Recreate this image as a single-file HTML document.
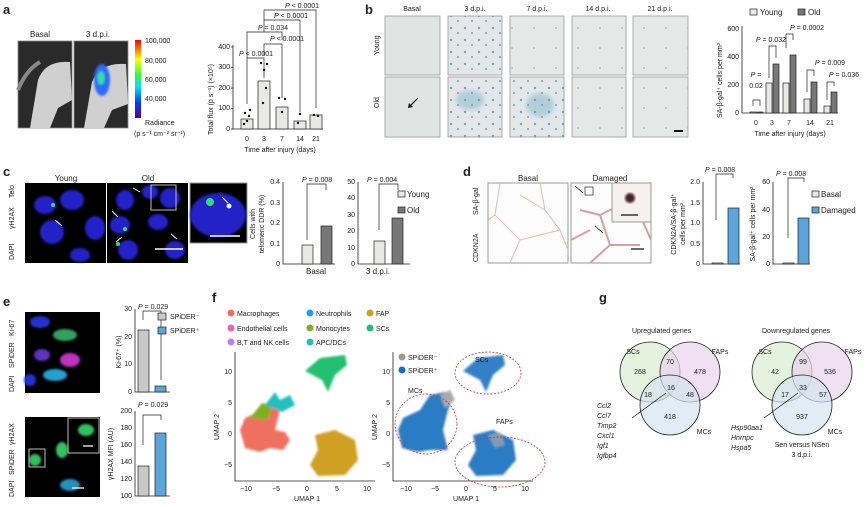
<!DOCTYPE html>
<html><head><meta charset="utf-8"><style>
body{margin:0;background:#fff}
svg{display:block;font-family:"Liberation Sans",sans-serif}
text{fill:#222}
.t{font-size:8px}
.s{font-size:7px}
.L{font-size:13px;font-weight:bold}
.ax{stroke:#222;stroke-width:0.8;fill:none}
.br{stroke:#222;stroke-width:0.7;fill:none}
.lb{fill:#e8e8e6;stroke:#222;stroke-width:0.7}
.dk{fill:#777;stroke:#222;stroke-width:0.7}
.bl{fill:#5aa6dc;stroke:#222;stroke-width:0.7}
.gr{fill:#c8c8c8;stroke:#222;stroke-width:0.7}
</style></head><body>
<svg width="867" height="507" viewBox="0 0 867 507">
<defs>
<linearGradient id="rb" x1="0" y1="1" x2="0" y2="0">
<stop offset="0" stop-color="#5000a0"/><stop offset="0.2" stop-color="#0040ff"/><stop offset="0.4" stop-color="#00e0ff"/><stop offset="0.55" stop-color="#30ff30"/><stop offset="0.75" stop-color="#ffff00"/><stop offset="1" stop-color="#ff0000"/></linearGradient>
<filter id="bl1"><feGaussianBlur stdDeviation="2"/></filter>
<filter id="bl2"><feGaussianBlur stdDeviation="1"/></filter>
<pattern id="pb" width="14" height="12" patternUnits="userSpaceOnUse"><rect width="14" height="12" fill="#e4e7e8"/><circle cx="3" cy="4" r="1.2" fill="#6aa8c0"/><circle cx="10" cy="9" r="0.9" fill="#4d90b0"/></pattern>
<pattern id="pl" width="22" height="20" patternUnits="userSpaceOnUse"><rect width="22" height="20" fill="#e6e8e8"/><circle cx="6" cy="8" r="0.8" fill="#6aa8c0"/></pattern>
</defs>

<!-- a -->
<text class="L" x="3" y="14">a</text>
<text class="t" x="30" y="37">Basal</text><text class="t" x="86" y="37">3 d.p.i.</text>
<rect x="18" y="41" width="54" height="87" fill="#2a2a2a" stroke="#888" stroke-width="0.8"/>
<path d="M30 128 L38 80 Q45 60 70 62 L72 100 L58 108 L50 128Z" fill="#d0d0d0"/>
<path d="M18 90 Q26 70 40 62" stroke="#888" stroke-width="4" fill="none"/>
<rect x="74" y="41" width="54" height="87" fill="#2a2a2a" stroke="#888" stroke-width="0.8"/>
<path d="M84 128 L92 82 Q100 62 126 64 L128 104 L112 110 L104 128Z" fill="#d0d0d0"/>
<ellipse cx="102" cy="80" rx="8" ry="16" fill="#2d6cff" filter="url(#bl2)"/><ellipse cx="101" cy="78" rx="4" ry="7" fill="#30e0a0" filter="url(#bl2)"/>
<rect x="135" y="40" width="6" height="78" fill="url(#rb)"/>
<g class="s"><text x="145" y="43">100,000</text><text x="145" y="63">80,000</text><text x="145" y="82">60,000</text><text x="145" y="101">40,000</text><text x="145" y="125">Radiance</text><text x="134" y="136">(p s⁻¹ cm⁻² sr⁻¹)</text></g>
<path class="ax" d="M233 45 V129 H323"/>
<g class="s" text-anchor="end"><text x="230" y="131">0</text><text x="230" y="110">100</text><text x="230" y="90">200</text><text x="230" y="69">300</text><text x="230" y="49">400</text></g>
<path class="ax" d="M231 129h2M231 108.5h2M231 88h2M231 67.5h2M231 47h2"/>
<text class="s" transform="translate(213,135) rotate(-90)">Total flux (p s⁻¹) (×10⁵)</text>
<rect class="lb" x="241" y="119" width="12" height="10"/><rect class="lb" x="258" y="81" width="12" height="48"/><rect class="lb" x="276" y="107" width="12" height="22"/><rect class="lb" x="294" y="121" width="12" height="8"/><rect class="lb" x="310" y="115" width="12" height="14"/>
<g fill="#111"><circle cx="245" cy="113" r="1.2"/><circle cx="249" cy="116" r="1.2"/><circle cx="247" cy="121" r="1.2"/><circle cx="244" cy="124" r="1.2"/><circle cx="250" cy="110" r="1.2"/><circle cx="261" cy="63" r="1.2"/><circle cx="267" cy="64" r="1.2"/><circle cx="264" cy="70" r="1.2"/><circle cx="266" cy="88" r="1.2"/><circle cx="263" cy="103" r="1.2"/><circle cx="279" cy="98" r="1.2"/><circle cx="285" cy="99" r="1.2"/><circle cx="282" cy="112" r="1.2"/><circle cx="300" cy="114" r="1.2"/><circle cx="298" cy="123" r="1.2"/><circle cx="314" cy="115" r="1.2"/><circle cx="318" cy="116" r="1.2"/></g>
<g class="s" text-anchor="middle"><text x="247" y="141">0</text><text x="264" y="141">3</text><text x="282" y="141">7</text><text x="300" y="141">14</text><text x="316" y="141">21</text><text x="280" y="152">Time after injury (days)</text>
<text x="256" y="56"><tspan font-style="italic">P</tspan> &lt; 0.0001</text><text x="287" y="41"><tspan font-style="italic">P</tspan> &lt; 0.0001</text><text x="273" y="30"><tspan font-style="italic">P</tspan> = 0.034</text><text x="291" y="18"><tspan font-style="italic">P</tspan> &lt; 0.0001</text><text x="302" y="8"><tspan font-style="italic">P</tspan> &lt; 0.0001</text></g>
<path class="br" d="M247 104V58H264V78M264 56V44H282V98M247 102V32H282V40M264 32V20H300V112M264 20V10H316V108"/>

<!-- b -->
<text class="L" x="365" y="14">b</text>
<g class="s" text-anchor="middle"><text x="412" y="11">Basal</text><text x="475" y="11">3 d.p.i.</text><text x="537" y="11">7 d.p.i.</text><text x="598" y="11">14 d.p.i.</text><text x="660" y="11">21 d.p.i.</text></g>
<text class="s" transform="translate(379,55) rotate(-90)">Young</text><text class="s" transform="translate(379,108) rotate(-90)">Old</text>
<g stroke="#999" stroke-width="0.8">
<rect x="385" y="16" width="55" height="59" fill="#e2e4e4"/><rect x="385" y="77" width="55" height="60" fill="#e2e4e4"/>
<rect x="448" y="16" width="54" height="59" fill="url(#pb)"/><rect x="448" y="77" width="54" height="60" fill="url(#pb)"/>
<rect x="510" y="16" width="54" height="59" fill="url(#pl)"/><rect x="510" y="77" width="54" height="60" fill="url(#pb)"/>
<rect x="572" y="16" width="54" height="59" fill="url(#pl)"/><rect x="572" y="77" width="54" height="60" fill="url(#pl)"/>
<rect x="633" y="16" width="55" height="59" fill="url(#pl)"/><rect x="633" y="77" width="55" height="60" fill="url(#pl)"/>
</g>
<ellipse cx="470" cy="100" rx="14" ry="10" fill="#5a9ec0" opacity="0.35" filter="url(#bl1)"/><ellipse cx="540" cy="105" rx="14" ry="12" fill="#5a9ec0" opacity="0.35" filter="url(#bl1)"/>
<path d="M418 98 L410 106" stroke="#111" stroke-width="1.2"/><path d="M408 108 l1-5 l4 4z" fill="#111"/>
<rect x="674" y="130" width="9" height="2" fill="#111"/>
<rect class="lb" x="750" y="9" width="7" height="6"/><text class="t" x="760" y="15">Young</text><rect class="dk" x="798" y="9" width="7" height="6"/><text class="t" x="808" y="15">Old</text>
<path class="ax" d="M742 26V113H838"/>
<g class="s" text-anchor="end"><text x="739" y="115">0</text><text x="739" y="87">200</text><text x="739" y="59">400</text><text x="739" y="31">600</text></g>
<text class="s" transform="translate(722,118) rotate(-90)">SA-β-gal⁺ cells per mm²</text>
<rect class="lb" x="750" y="112" width="6" height="1"/><rect class="dk" x="757" y="112" width="6" height="1"/>
<rect class="lb" x="766" y="83" width="6" height="30"/><rect class="dk" x="773" y="64" width="6" height="49"/>
<rect class="lb" x="783" y="83" width="6" height="30"/><rect class="dk" x="790" y="55" width="6" height="58"/>
<rect class="lb" x="804" y="99" width="6" height="14"/><rect class="dk" x="811" y="82" width="6" height="31"/>
<rect class="lb" x="824" y="106" width="6" height="7"/><rect class="dk" x="831" y="92" width="6" height="21"/>
<g class="s" text-anchor="middle"><text x="756" y="125">0</text><text x="772" y="125">3</text><text x="789" y="125">7</text><text x="810" y="125">14</text><text x="830" y="125">21</text><text x="790" y="136">Time after injury (days)</text>
<text x="756" y="77"><tspan font-style="italic">P</tspan> =</text><text x="756" y="88">0.02</text><text x="771" y="42"><tspan font-style="italic">P</tspan> = 0.032</text><text x="807" y="30"><tspan font-style="italic">P</tspan> = 0.0002</text><text x="830" y="65"><tspan font-style="italic">P</tspan> = 0.009</text><text x="844" y="77"><tspan font-style="italic">P</tspan> = 0.036</text></g>
<path class="br" d="M753 106V100H760V106M769 78V46H776V58M786 48V34H793V40M807 92V70H814V76M827 100V82H834V86"/>

<!-- c -->
<text class="L" x="3" y="176">c</text>
<g class="t" text-anchor="middle"><text x="66" y="181">Young</text><text x="148" y="181">Old</text></g>
<rect x="25" y="183" width="81" height="80" fill="#000"/><rect x="107" y="183" width="81" height="80" fill="#000"/><rect x="190" y="183" width="57" height="60" fill="#000" stroke="#999"/>
<g fill="#2020c8" filter="url(#bl2)"><ellipse cx="45" cy="205" rx="11" ry="9"/><ellipse cx="72" cy="200" rx="12" ry="10"/><ellipse cx="52" cy="232" rx="12" ry="12"/><ellipse cx="95" cy="228" rx="10" ry="12"/><ellipse cx="80" cy="255" rx="10" ry="7"/><ellipse cx="125" cy="200" rx="9" ry="10"/><ellipse cx="150" cy="192" rx="8" ry="7"/><ellipse cx="170" cy="198" rx="10" ry="10"/><ellipse cx="120" cy="225" rx="10" ry="9"/><ellipse cx="158" cy="222" rx="10" ry="8"/><ellipse cx="128" cy="250" rx="10" ry="10"/><ellipse cx="175" cy="250" rx="10" ry="9"/><ellipse cx="218" cy="215" rx="28" ry="22"/></g>
<g fill="#2fe07a"><circle cx="53" cy="205" r="2"/><circle cx="125" cy="229" r="2"/><circle cx="118" cy="244" r="2"/><circle cx="210" cy="202" r="4"/><circle cx="229" cy="206" r="2.5" fill="#d0ffff"/></g>
<rect x="151" y="185" width="25" height="25" fill="none" stroke="#bbb" stroke-width="1"/>
<path d="M155 249h28M210 236h30" stroke="#fff" stroke-width="1.5"/>
<path d="M62 226l-7-6M140 192l-7-4M118 217l-6-6M122 237l-6 5M177 239l-6-5M228 203l-6-6" stroke="#fff" stroke-width="1"/>
<g class="s"><text transform="translate(14,198) rotate(-90)" fill="#e0407a">Telo</text><text transform="translate(14,229) rotate(-90)" fill="#40a060">γH2AX</text><text transform="translate(14,260) rotate(-90)" fill="#3030c0">DAPI</text></g>
<path class="ax" d="M283 182V264H335"/>
<g class="s" text-anchor="end"><text x="280" y="266">0</text><text x="280" y="246">0.1</text><text x="280" y="225">0.2</text><text x="280" y="205">0.3</text><text x="280" y="184">0.4</text></g>
<text class="s" text-anchor="middle" transform="translate(255,224) rotate(-90)">Cells with</text><text class="s" text-anchor="middle" transform="translate(264,224) rotate(-90)">telomeric DDR (%)</text>
<rect class="lb" x="302" y="245" width="11" height="19"/><rect class="dk" x="321" y="226" width="11" height="38"/>
<text class="s" x="302" y="182"><tspan font-style="italic">P</tspan> = 0.008</text><path class="br" d="M307 240V184H326V190"/>
<text class="t" x="306" y="274">Basal</text>
<path class="ax" d="M358 182V264H410"/>
<g class="s" text-anchor="end"><text x="355" y="266">0</text><text x="355" y="250">10</text><text x="355" y="233">20</text><text x="355" y="217">30</text><text x="355" y="200">40</text><text x="355" y="184">50</text></g>
<rect class="lb" x="374" y="241" width="11" height="23"/><rect class="dk" x="392" y="218" width="11" height="46"/>
<text class="s" x="367" y="182"><tspan font-style="italic">P</tspan> = 0.004</text><path class="br" d="M379 230V184H398V190"/>
<text class="t" x="366" y="274">3 d.p.i.</text>
<rect class="lb" x="398" y="191" width="7" height="6"/><text class="t" x="407" y="197">Young</text><rect class="dk" x="398" y="207" width="7" height="6"/><text class="t" x="407" y="213">Old</text>

<!-- d -->
<text class="L" x="463" y="176">d</text>
<g class="t" text-anchor="middle"><text x="528" y="181">Basal</text><text x="610" y="181">Damaged</text></g>
<rect x="488" y="183" width="80" height="80" fill="#fdfdfd" stroke="#999"/>
<path d="M500 183L495 215L520 240L510 263M520 240L560 230L568 250M540 183L545 210L560 230M495 215L488 220M545 210L520 195" stroke="#e8b8b0" stroke-width="1" fill="none"/>
<rect x="571" y="183" width="80" height="80" fill="#fdfdfd" stroke="#999"/>
<path d="M580 210L600 215L610 245L590 263M600 215L620 205L640 215L651 240M610 245L640 245M571 240L590 230" stroke="#d8a0a0" stroke-width="2" fill="none"/>
<rect x="612" y="183" width="39" height="39" fill="#f6f0f0" stroke="#999"/>
<circle cx="630" cy="198" r="5" fill="#4a2030" filter="url(#bl2)"/><path d="M621 215h17M631 249h13" stroke="#111" stroke-width="1.3"/>
<rect x="585" y="187" width="8" height="8" fill="none" stroke="#666"/>
<path d="M575 186l8 7M595 226l8 7" stroke="#111" stroke-width="0.8"/>
<g class="s"><text transform="translate(478,215) rotate(-90)" fill="#4a8ac0">SA-β-gal</text><text transform="translate(478,262) rotate(-90)" fill="#a06050">CDKN2A</text></g>
<path class="ax" d="M703 182V264H740"/>
<g class="s" text-anchor="end"><text x="700" y="266">0</text><text x="700" y="246">0.5</text><text x="700" y="225">1.0</text><text x="700" y="205">1.5</text><text x="700" y="184">2.0</text></g>
<text class="s" text-anchor="middle" transform="translate(676,224) rotate(-90)">CDKN2A/SA-β-gal⁺</text><text class="s" text-anchor="middle" transform="translate(685,224) rotate(-90)">cells per mm²</text>
<rect class="lb" x="712" y="263" width="11" height="1"/><rect class="bl" x="728" y="208" width="11" height="56"/>
<text class="s" x="705" y="172"><tspan font-style="italic">P</tspan> = 0.008</text><path class="br" d="M716 220V174H733V178"/>
<path class="ax" d="M773 182V264H810"/>
<g class="s" text-anchor="end"><text x="770" y="266">0</text><text x="770" y="239">20</text><text x="770" y="212">40</text><text x="770" y="184">60</text></g>
<text class="s" text-anchor="middle" transform="translate(755,224) rotate(-90)">SA-β-gal⁺ cells per mm²</text>
<rect class="lb" x="783" y="263" width="11" height="1"/><rect class="bl" x="798" y="218" width="11" height="46"/>
<text class="s" x="776" y="176"><tspan font-style="italic">P</tspan> = 0.008</text><path class="br" d="M788 238V178H804V182"/>
<rect class="lb" x="812" y="191" width="7" height="6"/><text class="t" x="821" y="197">Basal</text><rect class="bl" x="812" y="207" width="7" height="6"/><text class="t" x="821" y="213">Damaged</text>

<!-- e -->
<text class="L" x="3" y="306">e</text>
<rect x="25" y="312" width="75" height="81" fill="#000"/><rect x="25" y="417" width="75" height="80" fill="#000"/>
<g filter="url(#bl2)"><ellipse cx="40" cy="322" rx="10" ry="6" fill="#2030d0"/><ellipse cx="65" cy="335" rx="12" ry="6" fill="#30a060"/><ellipse cx="70" cy="360" rx="10" ry="7" fill="#c030c0"/><ellipse cx="42" cy="355" rx="8" ry="6" fill="#6030c0"/><ellipse cx="55" cy="375" rx="12" ry="6" fill="#20a0d0"/><ellipse cx="30" cy="380" rx="6" ry="6" fill="#2030d0"/><ellipse cx="62" cy="450" rx="6" ry="8" fill="#30c060"/><ellipse cx="35" cy="460" rx="6" ry="6" fill="#30c060"/><ellipse cx="70" cy="485" rx="10" ry="6" fill="#2090c0"/><ellipse cx="86" cy="430" rx="8" ry="6" fill="#30c060"/></g>
<rect x="29" y="449" width="16" height="18" fill="none" stroke="#bbb"/><rect x="68" y="418" width="31" height="35" fill="none" stroke="#bbb"/>
<path d="M72 488h12M83 446h10" stroke="#fff" stroke-width="1.3"/>
<g class="s"><text transform="translate(14,336) rotate(-90)" fill="#e0407a">Ki-67</text><text transform="translate(14,368) rotate(-90)" fill="#40a060">SPiDER</text><text transform="translate(14,392) rotate(-90)" fill="#3030c0">DAPI</text><text transform="translate(14,445) rotate(-90)" fill="#e0407a">γH2AX</text><text transform="translate(14,475) rotate(-90)" fill="#40a060">SPiDER</text><text transform="translate(14,497) rotate(-90)" fill="#3030c0">DAPI</text></g>
<path class="ax" d="M135 309V392H170"/>
<g class="s" text-anchor="end"><text x="132" y="394">0</text><text x="132" y="366">10</text><text x="132" y="339">20</text><text x="132" y="311">30</text></g>
<text class="s" text-anchor="middle" transform="translate(121,352) rotate(-90)">Ki-67⁺ (%)</text>
<rect class="gr" x="138" y="330" width="11" height="62"/><rect class="bl" x="155" y="386" width="11" height="6"/>
<text class="s" x="138" y="309"><tspan font-style="italic">P</tspan> = 0.029</text><path class="br" d="M143 320V311H161V380"/>
<rect class="gr" x="158" y="313" width="8" height="7"/><text class="s" x="170" y="319">SPiDER⁻</text><rect class="bl" x="158" y="327" width="8" height="7"/><text class="s" x="170" y="333">SPiDER⁺</text>
<path class="ax" d="M135 411V496H170"/>
<g class="s" text-anchor="end"><text x="132" y="498">100</text><text x="132" y="481">120</text><text x="132" y="464">140</text><text x="132" y="447">160</text><text x="132" y="430">180</text><text x="132" y="413">200</text></g>
<text class="s" text-anchor="middle" transform="translate(113,454) rotate(-90)">γH2AX MFI (AU)</text>
<rect class="gr" x="138" y="466" width="11" height="30"/><rect class="bl" x="155" y="433" width="11" height="63"/>
<text class="s" x="138" y="407"><tspan font-style="italic">P</tspan> = 0.029</text><path class="br" d="M143 445V415H161V420"/>

<!-- f -->
<text class="L" x="212" y="302">f</text>
<g class="s">
<circle cx="231" cy="313" r="3.5" fill="#f07060"/><text x="237" y="316">Macrophages</text>
<circle cx="231" cy="328" r="3.5" fill="#f060c0"/><text x="237" y="331">Endothelial cells</text>
<circle cx="231" cy="342" r="3.5" fill="#c080f0"/><text x="237" y="345">B,T and NK cells</text>
<circle cx="310" cy="313" r="3.5" fill="#20a0f0"/><text x="316" y="316">Neutrophils</text>
<circle cx="310" cy="328" r="3.5" fill="#80b020"/><text x="316" y="331">Monocytes</text>
<circle cx="310" cy="342" r="3.5" fill="#20c0c0"/><text x="316" y="345">APC/DCs</text>
<circle cx="370" cy="313" r="3.5" fill="#d0a020"/><text x="376" y="316">FAP</text>
<circle cx="370" cy="328" r="3.5" fill="#20c070"/><text x="376" y="331">SCs</text>
</g>
<path class="ax" d="M235 352V481H375"/>
<g class="s" text-anchor="middle"><text x="246" y="491">−10</text><text x="276" y="491">−5</text><text x="307" y="491">0</text><text x="337" y="491">5</text><text x="367" y="491">10</text><text x="307" y="501">UMAP 1</text></g>
<g class="s" text-anchor="end"><text x="232" y="374">10</text><text x="232" y="405">5</text><text x="232" y="436">0</text><text x="232" y="467">−5</text></g>
<text class="s" transform="translate(219,440) rotate(-90)">UMAP 2</text>
<g filter="url(#bl2)">
<path d="M305 371L320 358L345 355L347 365L335 375L328 392L322 380Z" fill="#20c070"/>
<path d="M262 410L270 400L275 402L280 410L275 430L285 432L290 440L283 450L270 448L260 452L245 448L240 430L245 418Z" fill="#f07060"/>
<path d="M250 418L262 403L272 405L268 420Z" fill="#80b020"/>
<path d="M265 405L275 392L280 400L290 395L295 405L282 412Z" fill="#20c0c0"/>
<path d="M315 435L335 430L355 440L358 460L345 475L318 476L310 465L318 450Z" fill="#d0a020"/>
</g>
<path class="ax" d="M393 352V481H533"/>
<g class="s" text-anchor="middle"><text x="406" y="491">−10</text><text x="435" y="491">−5</text><text x="466" y="491">0</text><text x="495" y="491">5</text><text x="525" y="491">10</text><text x="466" y="501">UMAP 1</text></g>
<g class="s" text-anchor="end"><text x="390" y="374">10</text><text x="390" y="405">5</text><text x="390" y="436">0</text><text x="390" y="467">−5</text></g>
<text class="s" transform="translate(377,440) rotate(-90)">UMAP 2</text>
<g filter="url(#bl2)">
<path d="M463 371L478 358L503 355L505 365L493 375L486 392L480 380Z" fill="#3080c8"/>
<path d="M420 410L430 395L445 392L452 400L448 410L443 430L448 450L430 450L418 452L402 448L398 430L403 418Z" fill="#2a7cc4"/>
<path d="M440 395L450 390L455 400L445 408Z" fill="#aaa"/>
<path d="M473 435L493 430L513 440L516 460L503 475L476 476L468 465L476 450Z" fill="#2a7cc4"/>
<path d="M488 435L500 432L505 445L495 448Z" fill="#aaa" opacity="0.7"/>
</g>
<circle cx="402" cy="357" r="3.5" fill="#999"/><text class="s" x="408" y="360">SPiDER⁻</text>
<circle cx="402" cy="370" r="3.5" fill="#1a6ec0"/><text class="s" x="408" y="373">SPiDER⁺</text>
<text class="s" x="475" y="362">SCs</text><text class="s" x="408" y="393">MCs</text><text class="s" x="496" y="424">FAPs</text>
<g fill="none" stroke="#d03030" stroke-width="0.8" stroke-dasharray="2,1.5"><ellipse cx="488" cy="373" rx="33" ry="21"/><ellipse cx="426" cy="424" rx="31" ry="30"/><ellipse cx="500" cy="462" rx="45" ry="25"/></g>

<!-- g -->
<text class="L" x="599" y="302">g</text>
<text class="s" x="632" y="333">Upregulated genes</text>
<g stroke="#222" stroke-width="0.8"><circle cx="650" cy="372" r="30" fill="#d8ecd0" fill-opacity="0.7"/><circle cx="690" cy="372" r="30" fill="#e8d4ec" fill-opacity="0.7"/><circle cx="670" cy="405" r="30" fill="#d4e4f0" fill-opacity="0.7"/></g>
<g class="s" text-anchor="middle"><text x="633" y="354">SCs</text><text x="720" y="354">FAPs</text><text x="640" y="374">268</text><text x="670" y="364">70</text><text x="700" y="374">478</text><text x="671" y="390">16</text><text x="648" y="397">18</text><text x="690" y="397">48</text><text x="670" y="419">418</text><text x="704" y="434">MCs</text></g>
<path d="M666 393L632 418" stroke="#111" stroke-width="0.7"/>
<g class="s" font-style="italic"><text x="597" y="408">Ccl2</text><text x="597" y="418">Ccl7</text><text x="597" y="428">Timp2</text><text x="597" y="438">Cxcl1</text><text x="597" y="448">Igf1</text><text x="597" y="458">Igfbp4</text></g>
<text class="s" x="762" y="333">Downregulated genes</text>
<g stroke="#222" stroke-width="0.8"><circle cx="782" cy="372" r="30" fill="#d8ecd0" fill-opacity="0.7"/><circle cx="822" cy="372" r="30" fill="#e8d4ec" fill-opacity="0.7"/><circle cx="802" cy="405" r="30" fill="#d4e4f0" fill-opacity="0.7"/></g>
<g class="s" text-anchor="middle"><text x="765" y="354">SCs</text><text x="853" y="354">FAPs</text><text x="775" y="374">42</text><text x="803" y="364">99</text><text x="830" y="374">536</text><text x="803" y="390">33</text><text x="785" y="397">17</text><text x="823" y="397">57</text><text x="802" y="419">937</text><text x="835" y="434">MCs</text><text x="802" y="447">Sen versus NSen</text><text x="802" y="457">3 d.p.i.</text></g>
<path d="M798 393L764 418" stroke="#111" stroke-width="0.7"/>
<g class="s" font-style="italic"><text x="731" y="430">Hsp90aa1</text><text x="731" y="440">Hnrnpc</text><text x="731" y="450">Hspa5</text></g>
</svg>
</body></html>
